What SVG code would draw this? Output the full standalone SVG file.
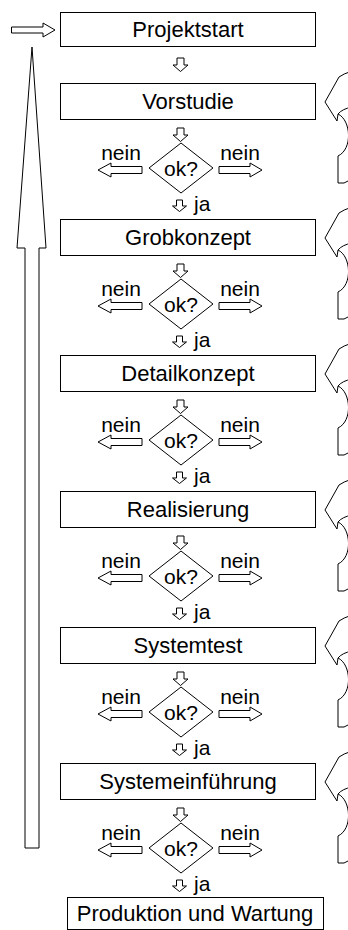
<svg xmlns="http://www.w3.org/2000/svg" width="348" height="930" viewBox="0 0 348 930">
<style>
.box{fill:#fff;stroke:#000;stroke-width:1}
.ar{fill:#fff;stroke:#000;stroke-width:1;stroke-linejoin:miter}
.cv{fill:none;stroke:#000;stroke-width:1}
.t{font-family:"Liberation Sans",Arial,sans-serif;font-size:22px;fill:#000;text-anchor:middle}
.s{font-family:"Liberation Sans",Arial,sans-serif;font-size:21px;fill:#000;text-anchor:middle}
.j{font-family:"Liberation Sans",Arial,sans-serif;font-size:21px;fill:#000}
</style>
<defs>
<path id="dn" class="ar" d="M -3.5,0 h7 v7 h4 l-7.5,6.5 l-7.5,-6.5 h4 z"/>
<path id="dj" class="ar" d="M -3,0 h6 v6 h4 l-7,5.5 l-7,-5.5 h4 z"/>
<path id="lf" class="ar" d="M 0,0 l13,-7 v3.5 h31 v7 h-31 v3.5 z"/>
<path id="rt" class="ar" d="M 0,0 l-12,-7 v3.5 h-31 v7 h31 v3.5 z"/>
<g id="curve">
<path class="cv" d="M 352,-12 Q 343,-9 339,-6 L 325,19 L 337,38 L 338,31 Q 342,26 352,24"/>
<path class="cv" d="M 338,31 C 351,37 353,66 338,73 L 338,100 L 344,100 Q 348,99 352,94"/>
</g>
<g id="dec">
<use href="#dn" x="180.5" y="45"/>
<polygon class="box" points="181,60 213,85 181,110 149,85"/>
<text class="s" x="181" y="93">ok?</text>
<text class="s" x="121" y="77">nein</text>
<text class="s" x="240" y="77">nein</text>
<use href="#lf" x="98" y="87"/>
<use href="#rt" x="262" y="87"/>
<use href="#dj" x="179.5" y="117"/>
<text class="j" x="194" y="128">ja</text>
</g>
</defs>

<g id="connectors">
<path class="ar" d="M 11.5,27 H 43 V 23 L 55,30 L 43,37 V 33 H 11.5 Z"/>
<path class="ar" d="M 32,47 L 46,248 H 39 V 848 H 25 V 248 H 17 Z"/>
<use href="#dn" x="180.5" y="58"/>
<use href="#curve" y="83"/>
<use href="#curve" y="219"/>
<use href="#curve" y="355"/>
<use href="#curve" y="491"/>
<use href="#curve" y="627"/>
<use href="#curve" y="763"/>
</g>

<g id="projektstart">
<rect class="box" x="60.5" y="12.5" width="255" height="34"/>
<text class="t" x="188" y="37">Projektstart</text>
</g>

<g id="vorstudie">
<rect class="box" x="60.5" y="83.5" width="255" height="36"/>
<text class="t" x="188" y="109">Vorstudie</text>
<use href="#dec" y="83"/>
</g>

<g id="grobkonzept">
<rect class="box" x="60.5" y="219.5" width="255" height="36"/>
<text class="t" x="188" y="245">Grobkonzept</text>
<use href="#dec" y="219"/>
</g>

<g id="detailkonzept">
<rect class="box" x="60.5" y="355.5" width="255" height="36"/>
<text class="t" x="188" y="381">Detailkonzept</text>
<use href="#dec" y="355"/>
</g>

<g id="realisierung">
<rect class="box" x="60.5" y="491.5" width="255" height="36"/>
<text class="t" x="188" y="517">Realisierung</text>
<use href="#dec" y="491"/>
</g>

<g id="systemtest">
<rect class="box" x="60.5" y="627.5" width="255" height="36"/>
<text class="t" x="188" y="653">Systemtest</text>
<use href="#dec" y="627"/>
</g>

<g id="systemeinfuehrung">
<rect class="box" x="60.5" y="763.5" width="255" height="36"/>
<text class="t" x="188" y="789">Systemeinführung</text>
<use href="#dec" y="763"/>
</g>

<g id="produktion">
<rect class="box" x="67.5" y="897.5" width="256" height="32"/>
<text class="t" x="195" y="921">Produktion und Wartung</text>
</g>
</svg>
